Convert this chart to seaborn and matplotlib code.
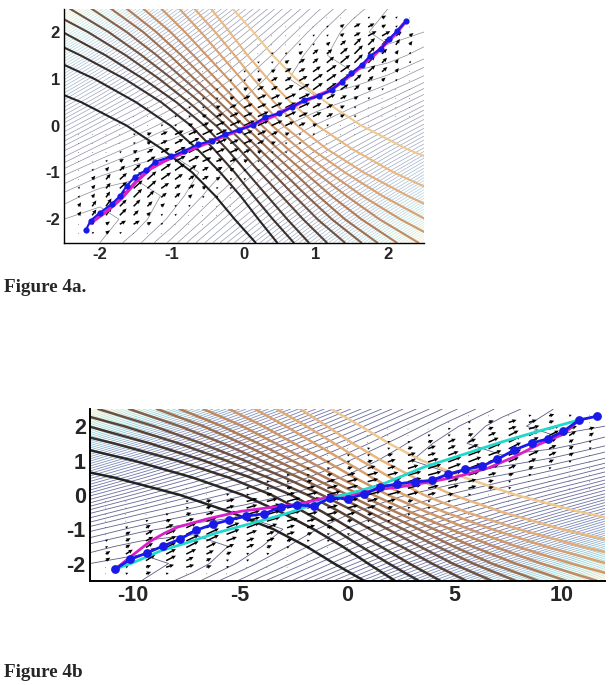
import numpy as np
import matplotlib
matplotlib.use("Agg")
import matplotlib.pyplot as plt
from matplotlib.colors import LinearSegmentedColormap
import seaborn as sns

# path panel a
path_a_x = [-2.20, -2.13, -2.00, -1.84, -1.72, -1.63, -1.52, -1.36, -1.23, -1.01, -0.83, -0.64, -0.45, -0.27, -0.07, 0.13,
            0.29, 0.49, 0.67, 0.84, 1.04, 1.22, 1.36, 1.49, 1.64, 1.75, 1.90, 2.01, 2.13, 2.25]
path_a_y = [-2.24, -2.03, -1.86, -1.68, -1.50, -1.29, -1.10, -0.95, -0.77, -0.66, -0.54, -0.40, -0.33, -0.19, -0.09, 0.01,
            0.18, 0.26, 0.40, 0.55, 0.63, 0.77, 0.94, 1.12, 1.30, 1.49, 1.64, 1.84, 2.03, 2.23]
magenta_a_x = [-2.13, -1.90, -1.70, -1.50, -1.30, -1.10, -0.80, -0.40, 0.00, 0.40, 0.80, 1.20, 1.50, 1.80, 2.10, 2.22]
magenta_a_y = [-2.08, -1.82, -1.55, -1.20, -0.92, -0.75, -0.55, -0.30, -0.05, 0.20, 0.50, 0.75, 1.10, 1.50, 1.95, 2.18]

# path panel b
path_b_x = [-10.84, -10.12, -9.35, -8.59, -7.81, -7.05, -6.28, -5.50, -4.71, -3.89, -3.12, -2.36, -1.55, -0.81, 0.00, 0.78,
            1.53, 2.33, 3.13, 3.92, 4.68, 5.49, 6.25, 6.99, 7.78, 8.60, 9.33, 10.06, 10.79, 11.63]
path_b_y = [-2.17, -1.88, -1.69, -1.49, -1.29, -1.03, -0.86, -0.73, -0.62, -0.55, -0.36, -0.30, -0.32, -0.09, -0.11, 0.02,
            0.23, 0.32, 0.38, 0.42, 0.60, 0.74, 0.83, 1.04, 1.31, 1.51, 1.63, 1.85, 2.18, 2.29]
magenta_b_x = [-10.84, -9.94, -9.16, -8.54, -7.92, -6.53, -4.98, -3.74, -2.19, -0.78, 0.15, 1.24, 2.33, 3.88, 5.12, 6.51, 7.75, 8.99, 10.08, 10.79]
magenta_b_y = [-2.17, -1.72, -1.34, -1.12, -0.94, -0.70, -0.48, -0.38, -0.26, -0.05, 0.00, 0.14, 0.22, 0.38, 0.53, 0.77, 1.10, 1.49, 1.77, 2.18]
cyan_b_x = [-10.84, -9.94, -8.70, -7.46, -6.06, -4.36, -2.96, -1.87, -0.78, 0.15, 1.55, 3.57, 5.27, 7.13, 8.99, 10.79]
cyan_b_y = [-2.17, -1.96, -1.63, -1.39, -1.10, -0.81, -0.57, -0.34, -0.09, 0.05, 0.29, 0.81, 1.15, 1.53, 1.87, 2.18]

# thick contours, x where each one crosses these y values
thick_y = [-2.5, -2.0, -1.5, -1.0, -0.5, 0.0, 0.5, 1.0, 1.5, 2.0, 2.5]
thick_x = [
    [0.16, -0.13, -0.40, -0.72, -1.14, -1.63, -2.26, -3.05, -4.00, -5.10, -6.30],
    [0.46, 0.20, -0.05, -0.33, -0.65, -1.02, -1.50, -2.08, -2.78, -3.55, -4.40],
    [0.69, 0.40, 0.13, -0.13, -0.42, -0.74, -1.15, -1.66, -2.27, -2.95, -3.70],
    [0.90, 0.60, 0.32, 0.04, -0.24, -0.55, -0.94, -1.40, -1.92, -2.52, -3.20],
    [1.15, 0.82, 0.52, 0.22, -0.07, -0.39, -0.77, -1.18, -1.64, -2.17, -2.78],
    [1.40, 1.02, 0.70, 0.39, 0.08, -0.25, -0.61, -1.00, -1.42, -1.88, -2.42],
    [1.63, 1.22, 0.87, 0.54, 0.21, -0.12, -0.47, -0.84, -1.21, -1.63, -2.12],
    [1.85, 1.40, 1.03, 0.69, 0.34, 0.00, -0.34, -0.69, -1.03, -1.40, -1.85],
]
thick_colors = ["#222222", "#2b2626", "#3a302c", "#453630", "#5a4438", "#6e5242", "#85604a", "#9c6f50",
                "#b07c58", "#c08a62", "#cf9768", "#d8a270", "#e0ac7a", "#e8b880", "#f0c890"]

grid_vals = [-2.5, -2.0, -1.5, -1.0, -0.5, 0.0, 0.5, 1.0, 1.5, 2.0, 2.5]
thin_z = [
    [0.12, 0.25, 1.04, 2.44, 4.41, 6.91, 9.90, 13.37, 17.29, 21.64, 26.43],
    [0.25, 0.04, 0.44, 1.41, 2.91, 4.90, 7.37, 10.29, 13.64, 17.43, 21.64],
    [1.04, 0.44, 0.41, 0.91, 1.90, 3.37, 5.29, 7.64, 10.43, 13.64, 17.29],
    [2.44, 1.41, 0.91, 0.90, 1.37, 2.29, 3.64, 5.43, 7.64, 10.29, 13.37],
    [4.41, 2.91, 1.90, 1.37, 1.29, 1.64, 2.43, 3.64, 5.29, 7.37, 9.90],
    [6.91, 4.90, 3.37, 2.29, 1.64, 1.43, 1.64, 2.29, 3.37, 4.90, 6.91],
    [9.90, 7.37, 5.29, 3.64, 2.43, 1.64, 1.29, 1.37, 1.90, 2.91, 4.41],
    [13.37, 10.29, 7.64, 5.43, 3.64, 2.29, 1.37, 0.90, 0.91, 1.41, 2.44],
    [17.29, 13.64, 10.43, 7.64, 5.29, 3.37, 1.90, 0.91, 0.41, 0.44, 1.04],
    [21.64, 17.43, 13.64, 10.29, 7.37, 4.90, 2.91, 1.41, 0.44, 0.04, 0.25],
    [26.43, 21.64, 17.29, 13.37, 9.90, 6.91, 4.41, 2.44, 1.04, 0.25, 0.12],
]

# arrow sizes, top row first, "." = no arrow, 0 = just a dot
arrow_rows = [
    "..................0001210",
    "...............0001233210",
    "..............00011234432",
    ".............000112344432",
    "...........00011233454321",
    "..........000112334554321",
    ".........0001123345554320",
    "........00011233455543210",
    ".......000112334555432100",
    "......0001123445554321000",
    ".....00011234455543210000",
    "....000112344555443210000",
    "...0001123455554321000...",
    "000012344555443211000....",
    "00001234555443211000.....",
    "0001234555443211000......",
    "001234555433211000.......",
    "01234555433211000........",
    "0234555433211000.........",
    "123455433211000..........",
    "12345433211000...........",
    "234443211000.............",
    "23443211000..............",
    "0123321000...............",
    "0121000..................",
]
# arrow direction in degrees on screen, coarse cells
arrow_angle = [
    [35, 35, 35, 35, 35, 35, 35, 30, 35],
    [35, 35, 35, 35, 35, 35, 40, 45, 55],
    [30, 30, 30, 30, 30, 30, 35, 42, 50],
    [25, 25, 25, 25, 25, 25, 28, 32, 45],
    [25, 25, 25, 25, 25, 25, 25, 25, 25],
    [45, 32, 28, 25, 25, 25, 25, 25, 25],
    [50, 42, 35, 30, 30, 30, 30, 30, 30],
    [55, 45, 40, 35, 35, 35, 35, 35, 35],
    [35, 30, 35, 35, 35, 35, 35, 35, 35],
]

x_stretch = 4.8
arrow_extent = 2.3
arrow_stretch = 4.9


def draw_panel(ax, stretch, thin_colors, thin_lw, thick_lw, arrow_extent_x, angle_mult, arrow_scale):
    # thin family
    cmap = LinearSegmentedColormap.from_list("thin", thin_colors)
    xg = np.array(grid_vals) * stretch
    ax.contour(xg, grid_vals, thin_z, levels=np.arange(0.25, 26.5, 0.5), cmap=cmap, linewidths=thin_lw, zorder=1)

    # thick family, the lines past the middle are the same ones turned round
    rows = [np.array(r) for r in thick_x] + [-np.array(r)[::-1] for r in thick_x[-2::-1]]
    for r, c in zip(rows, thick_colors):
        sns.lineplot(x=r * stretch, y=thick_y, sort=False, estimator=None, color=c, linewidth=thick_lw, ax=ax, zorder=2)

    # arrows
    n = len(arrow_rows)
    xs, ys, us, vs = [], [], [], []
    for i, row in enumerate(arrow_rows):
        for j, ch in enumerate(row):
            if ch == ".":
                continue
            ang = np.radians(arrow_angle[i * 9 // n][j * 9 // n] * angle_mult)
            m = int(ch) * 2.4 * arrow_scale
            xs.append(-arrow_extent_x + 2 * arrow_extent_x * j / (n - 1))
            ys.append(arrow_extent - 2 * arrow_extent * i / (n - 1))
            us.append(m * np.cos(ang))
            vs.append(m * np.sin(ang))
    ax.quiver(xs, ys, us, vs, angles="uv", scale_units="dots", scale=1, units="dots", width=1.5,
              headwidth=2.8, headlength=3.0, headaxislength=2.6, minshaft=1, minlength=0.5, color="black", zorder=3)

    ax.set_xlim(-2.5 * stretch, 2.5 * stretch)
    ax.set_ylim(-2.5, 2.5)
    ax.set_xlabel("")
    ax.set_ylabel("")
    sns.despine(ax=ax)


sns.set_style("white")
plt.rcParams["font.family"] = ["Liberation Sans", "DejaVu Sans"]

fig = plt.figure(figsize=(6.14, 6.85), dpi=100)
W, H = 614, 685

ax1 = fig.add_axes([64 / W, (H - 242.6) / H, 360 / W, 234 / H])
draw_panel(ax1, 1, ["#8a8a96", "#9a9eb8", "#a8bcd4", "#b8e4e0", "#f2ecc4"], 0.5, 1.5, arrow_extent, 1, 1)
sns.lineplot(x=magenta_a_x, y=magenta_a_y, sort=False, estimator=None, color="#d81fc8", linewidth=2.6, ax=ax1, zorder=4)
sns.lineplot(x=path_a_x, y=path_a_y, sort=False, estimator=None, color="#1a1ae8", linewidth=1.5, ax=ax1, zorder=5)
sns.scatterplot(x=path_a_x, y=path_a_y, color="#1a1ae8", s=20, linewidth=0, ax=ax1, zorder=6)
ax1.set_xticks([-2, -1, 0, 1, 2])
ax1.set_yticks([-2, -1, 0, 1, 2])
ax1.tick_params(direction="in", length=3, width=0.8, labelsize=12, pad=3)
ax1.set_xticklabels(["-2", "-1", "0", "1", "2"], fontweight="bold")
ax1.set_yticklabels(["-2", "-1", "0", "1", "2"], fontweight="bold")
for s in ["left", "bottom"]:
    ax1.spines[s].set_linewidth(1.0)
    ax1.spines[s].set_color("black")

ax2 = fig.add_axes([90 / W, (H - 580.7) / H, 515 / W, 171.7 / H])
draw_panel(ax2, x_stretch, ["#5c5c82", "#6a6ea0", "#8498c4", "#98dcdc", "#f2ecc4"], 0.6, 1.8, arrow_extent * arrow_stretch, 0.6, 1.15)
sns.lineplot(x=magenta_b_x, y=magenta_b_y, sort=False, estimator=None, color="#d81fc8", linewidth=2.0, ax=ax2, zorder=4)
sns.lineplot(x=cyan_b_x, y=cyan_b_y, sort=False, estimator=None, color="#20d8cc", linewidth=2.0, ax=ax2, zorder=4)
sns.lineplot(x=path_b_x, y=path_b_y, sort=False, estimator=None, color="#1a1ae8", linewidth=2.0, ax=ax2, zorder=5)
sns.scatterplot(x=path_b_x, y=path_b_y, color="#1a1ae8", s=40, linewidth=0, ax=ax2, zorder=6)
ax2.set_xticks([-10, -5, 0, 5, 10])
ax2.set_yticks([-2, -1, 0, 1, 2])
ax2.tick_params(direction="in", length=3, width=1.0, labelsize=15.5, pad=3)
ax2.set_xticklabels(["-10", "-5", "0", "5", "10"], fontweight="bold")
ax2.set_yticklabels(["-2", "-1", "0", "1", "2"], fontweight="bold")
for s in ["left", "bottom"]:
    ax2.spines[s].set_linewidth(1.4)
    ax2.spines[s].set_color("black")

fig.text(4 / W, 1 - 292.5 / H, "Figure 4a.", family=["Liberation Serif"], fontweight="bold", fontsize=13.8, va="baseline")
fig.text(4 / W, 1 - 677 / H, "Figure 4b", family=["Liberation Serif"], fontweight="bold", fontsize=13.8, va="baseline")

fig.savefig("out.png", dpi=100)
